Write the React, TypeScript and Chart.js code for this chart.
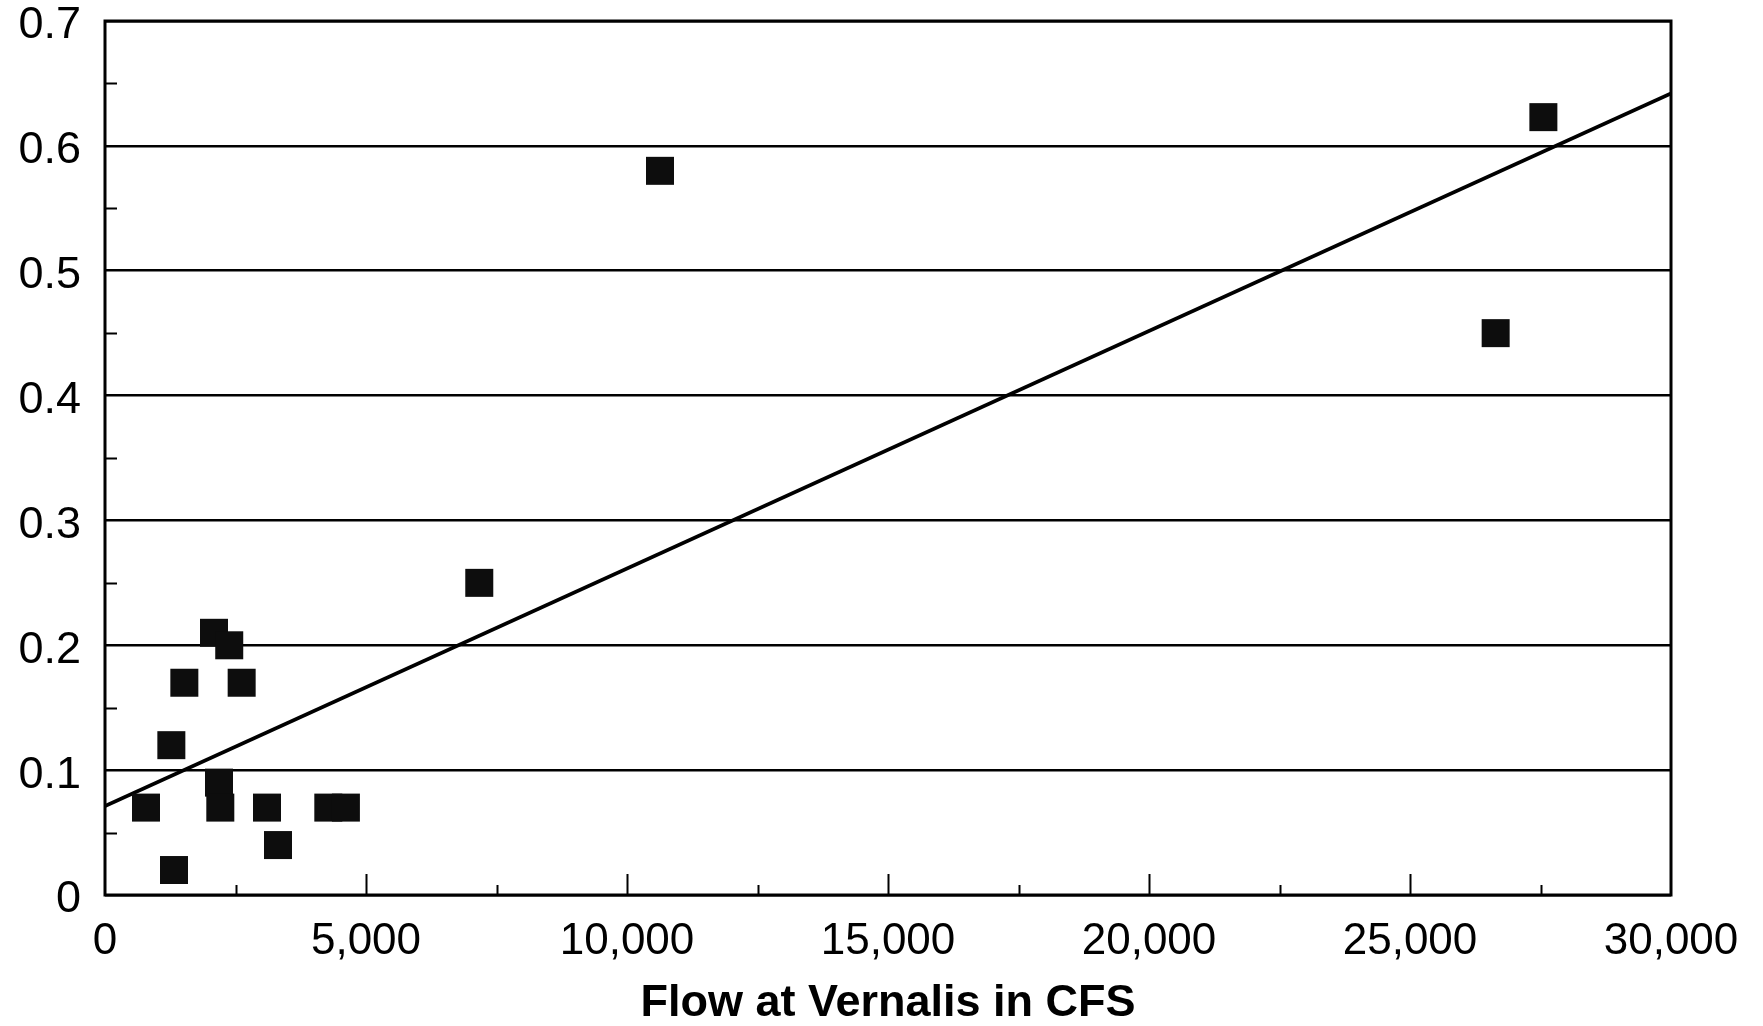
import React, { useEffect, useRef } from "react";
import { Chart, registerables } from "chart.js";

Chart.register(...registerables);

// Data
const flowCfs = [785, 1322, 1271, 1520, 2088, 2380, 2618, 2184, 2209, 3103, 3314, 4278, 4615, 7170, 10632, 26641, 27555];
const ratioValues = [0.07, 0.02, 0.12, 0.17, 0.21, 0.2, 0.17, 0.09, 0.07, 0.07, 0.04, 0.07, 0.07, 0.25, 0.58, 0.45, 0.623];

// Regression line end points
const trendX = [0, 30000];
const trendY = [0.0712, 0.642];

// Ticks
const xTicks = [0, 5000, 10000, 15000, 20000, 25000, 30000];
const xMinorTicks = [2500, 7500, 12500, 17500, 22500, 27500];
const yTicks = [0, 0.1, 0.2, 0.3, 0.4, 0.5, 0.6, 0.7];
const yMinorTicks = [0.05, 0.15, 0.25, 0.35, 0.45, 0.55, 0.65];

const xTitle = "Flow at Vernalis in CFS";

const FONT = "'Liberation Sans', Arial, Helvetica, sans-serif";

const framePlugin = {
  id: "frame",
  afterDraw(chart: any) {
    const { ctx, chartArea } = chart;
    const xs = chart.scales.x;
    const ys = chart.scales.y;
    ctx.save();
    ctx.strokeStyle = "#000";
    // x ticks pointing inward (up)
    ctx.lineWidth = 2;
    ctx.beginPath();
    for (const v of xTicks) {
      if (v === xTicks[0] || v === xTicks[xTicks.length - 1]) continue;
      const px = Math.round(xs.getPixelForValue(v)) + 0.5;
      ctx.moveTo(px, chartArea.bottom);
      ctx.lineTo(px, chartArea.bottom - 21);
    }
    for (const v of xMinorTicks) {
      const px = Math.round(xs.getPixelForValue(v)) + 0.5;
      ctx.moveTo(px, chartArea.bottom);
      ctx.lineTo(px, chartArea.bottom - 10);
    }
    // y minor ticks pointing inward (right)
    for (const v of yMinorTicks) {
      const py = Math.round(ys.getPixelForValue(v)) + 0.5;
      ctx.moveTo(chartArea.left, py);
      ctx.lineTo(chartArea.left + 12, py);
    }
    ctx.stroke();
    // frame
    ctx.lineWidth = 3;
    ctx.strokeRect(chartArea.left, chartArea.top, chartArea.right - chartArea.left, chartArea.bottom - chartArea.top);
    ctx.restore();
  },
};

export default function App() {
  const canvasRef = useRef<HTMLCanvasElement | null>(null);

  useEffect(() => {
    document.body.style.margin = "0";
    const canvas = canvasRef.current;
    if (!canvas) return;
    const chart = new Chart(canvas, {
      type: "scatter",
      data: {
        datasets: [
          {
            type: "scatter",
            label: "Observed",
            data: flowCfs.map((x, i) => ({ x, y: ratioValues[i] })),
            pointStyle: "rect",
            pointRadius: 19.8,
            pointHoverRadius: 19.8,
            backgroundColor: "#0d0d0d",
            borderWidth: 0,
            order: 1,
          },
          {
            type: "line",
            label: "Trend",
            data: trendX.map((x, i) => ({ x, y: trendY[i] })),
            borderColor: "#000",
            borderWidth: 3.8,
            pointRadius: 0,
            fill: false,
            order: 2,
          },
        ],
      },
      options: {
        animation: false,
        responsive: false,
        maintainAspectRatio: false,
        layout: { padding: { left: 0, right: 92, top: 21, bottom: 0 } },
        plugins: {
          legend: { display: false },
          tooltip: { enabled: false },
          title: { display: false },
        },
        scales: {
          x: {
            type: "linear",
            min: 0,
            max: 30000,
            afterBuildTicks: (scale: any) => {
              scale.ticks = xTicks.map((v) => ({ value: v }));
            },
            afterFit: (scale: any) => {
              scale.height = 1026 - 895;
              scale.paddingLeft = 0;
            },
            ticks: {
              color: "#000",
              font: { family: FONT, size: 44 },
              padding: 20,
              maxRotation: 0,
              autoSkip: false,
              callback: (v: any) => Number(v).toLocaleString("en-US"),
            },
            grid: { display: false, drawTicks: false },
            border: { display: false },
            title: {
              display: true,
              text: xTitle,
              color: "#000",
              font: { family: FONT, size: 45, weight: "bold", lineHeight: 1.0 },
              padding: { top: 0, bottom: 0 },
            },
          },
          y: {
            type: "linear",
            min: 0,
            max: 0.7,
            afterBuildTicks: (scale: any) => {
              scale.ticks = yTicks.map((v) => ({ value: v }));
            },
            afterFit: (scale: any) => {
              scale.width = 105;
              scale.paddingTop = 0;
              scale.paddingBottom = 0;
            },
            ticks: {
              color: "#000",
              font: { family: FONT, size: 45 },
              padding: 24,
              labelOffset: 5,
              autoSkip: false,
              callback: (v: any) => {
                const n = Number(v);
                return n === 0 ? "0" : n.toFixed(1);
              },
            },
            grid: {
              display: true,
              drawOnChartArea: true,
              drawTicks: false,
              color: "#000",
              lineWidth: 2.5,
            },
            border: { display: false },
          },
        },
      },
      plugins: [framePlugin],
    });
    return () => chart.destroy();
  }, []);

  return (
    <div style={{ width: 1763, height: 1026, background: "#fff" }}>
      <canvas ref={canvasRef} width={1763} height={1026} style={{ display: "block" }} />
    </div>
  );
}
